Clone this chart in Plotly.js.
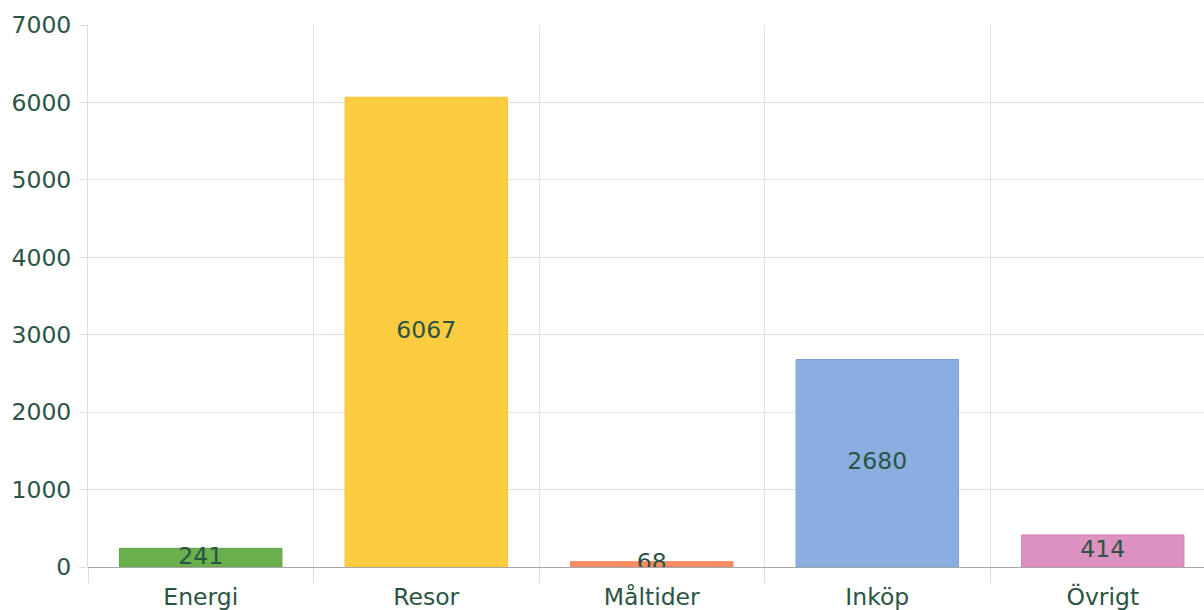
<!DOCTYPE html>
<html><head><meta charset="utf-8">
<script src="https://cdn.plot.ly/plotly-3.0.1.min.js"></script>
<style>html,body{margin:0;padding:0;background:#fff}#chart{width:1204px;height:610px}</style>
</head><body><div id="chart"></div>
<script>
const categories = ["Energi", "Resor", "Måltider", "Inköp", "Övrigt"];
const values = [241, 6067, 68, 2680, 414];
const fillColors = ["rgba(106,176,78,1)", "rgba(253,204,64,1)", "rgba(252,141,98,1)", "rgba(138,174,224,1)", "rgba(221,145,192,1)"];
const lineColors = ["#5da244", "#f5c230", "#f28058", "#7aa0d6", "#d07fb2"];
const yTicks = [0, 1000, 2000, 3000, 4000, 5000, 6000, 7000];

const txtColor = "#2b5444";
const font = {family: "DejaVu Sans, sans-serif", size: 23.5, color: txtColor};

const bars = {
  type: "bar", x: categories, y: values, width: 0.72,
  marker: {color: fillColors, line: {color: lineColors, width: 1}},
  hoverinfo: "x+y", showlegend: false
};
const labels = {
  type: "scatter", mode: "text", x: categories, y: values.map(v => v / 2),
  text: values.map(String), textposition: "middle center",
  textfont: font, hoverinfo: "skip", showlegend: false
};

const layout = {
  width: 1204, height: 610,
  margin: {l: 88, r: 0, t: 25, b: 43},
  paper_bgcolor: "#fff", plot_bgcolor: "#fff",
  font: font,
  xaxis: {
    type: "category", range: [-0.5, 4.449],
    tickson: "boundaries", ticks: "outside", ticklen: 15, tickcolor: "#dddddd", tickwidth: 1,
    showgrid: true, gridcolor: "#e2e2e2", gridwidth: 1,
    showline: false, zeroline: false, tickfont: font, ticklabelstandoff: 13, fixedrange: true
  },
  yaxis: {
    range: [0, 7000], tickvals: yTicks, ticktext: yTicks.map(String),
    ticks: "outside", ticklen: 8, tickcolor: "#dddddd",
    showgrid: true, gridcolor: "#e2e2e2", gridwidth: 1,
    zeroline: true, zerolinecolor: "#a8a8a8", zerolinewidth: 1,
    showline: true, linecolor: "#dddddd", linewidth: 1,
    tickfont: font, ticklabelstandoff: 3, fixedrange: true
  },
  bargap: 0.28
};

Plotly.newPlot("chart", [bars, labels], layout, {displayModeBar: false, staticPlot: true});
</script></body></html>
